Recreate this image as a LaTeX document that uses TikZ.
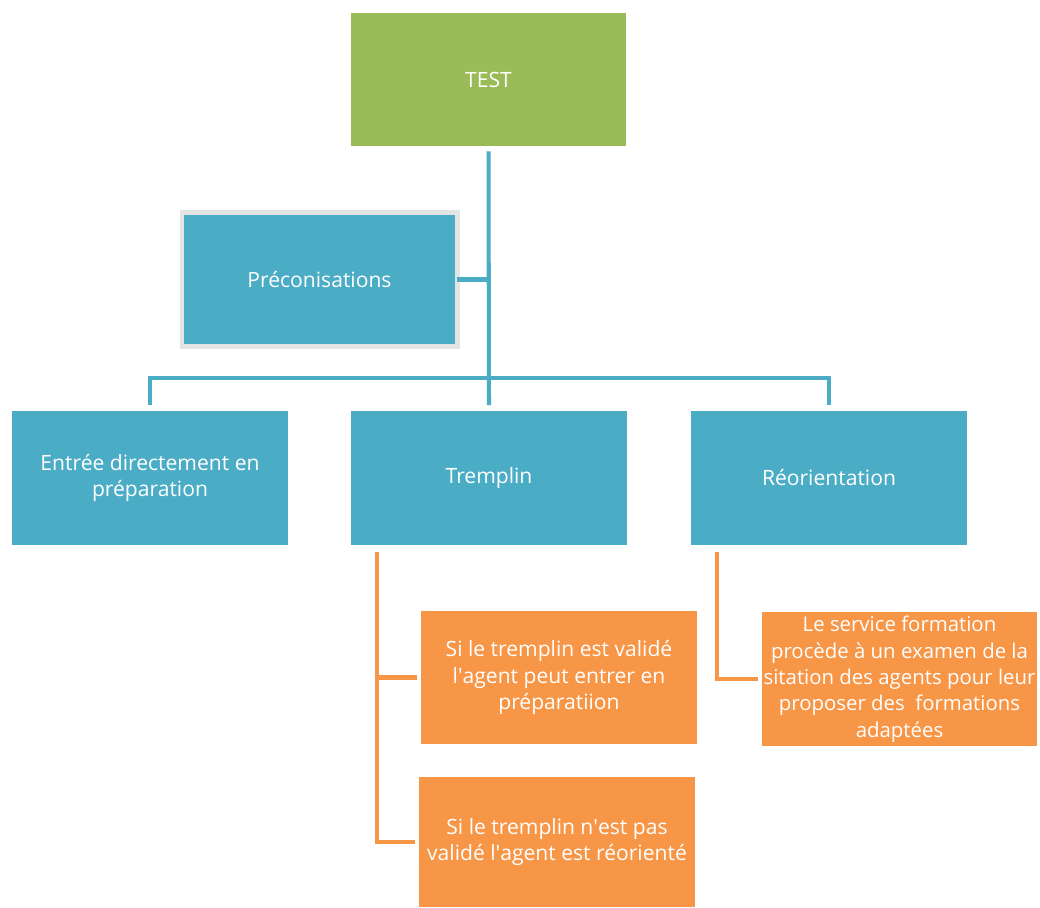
\documentclass[tikz,border=0pt]{standalone}
\usepackage{fontspec}
\setmainfont{Open Sans}
\usetikzlibrary{positioning}
\definecolor{boxblue}{HTML}{4BACC6}
\definecolor{boxgreen}{HTML}{9BBB59}
\definecolor{boxorange}{HTML}{F79646}
\definecolor{framegray}{HTML}{E4E4E4}
\newcommand{\apos}{\textquotesingle}
\begin{document}
\begin{tikzpicture}[x=0.02cm, y=-0.02cm,
    box/.style={minimum width=5.52cm, minimum height=2.68cm, text=white, align=center,
      inner sep=2pt, outer sep=0pt, font=\fontsize{12}{15}\selectfont},
    bluebox/.style={box, fill=boxblue},
    orangebox/.style={box, fill=boxorange},
    link/.style={draw=boxblue, line width=2.3pt},
    olink/.style={draw=boxorange, line width=2.3pt}]
    \useasboundingbox (0,0) rectangle (1040,908);

    \node (test) [box, fill=boxgreen] at (488.5,79.5) {TEST};
    \node (precon) [bluebox, draw=framegray, line width=2.3pt] at (319.5,279.5) {Préconisations};
    \node (entree) [bluebox] at (150,478) {Entrée directement en\\préparation};
    \node (tremplin) [bluebox] at (489,478) {Tremplin};
    \node (reor) [bluebox] at (829,478) {Réorientation};

    % suites du tremplin
    \node (valid) [orangebox] at (559,677.5) {Si le tremplin est validé\\l\apos agent peut entrer en\\préparatiion};
    \node (nonvalid) [orangebox, minimum height=2.6cm] at (557,842) {Si le tremplin n\apos est pas\\validé l\apos agent est réorienté};
    % suite de la reorientation
    \node (exam) [orangebox, inner sep=0pt, font=\fontsize{11.6}{15}\selectfont] at (899.5,679) {Le service formation\\procède à un examen de la\\sitation des agents pour leur\\proposer des\ \ formations\\adaptées};

    \coordinate (bus) at (489,378);
    \draw[link, shorten <=0.1cm, shorten >=0.12cm] (test.south) -- (tremplin.north);
    \draw[link, shorten <=0.12cm, shorten >=0.12cm] (entree.north) |- (bus) -| (reor.north);
    \draw[link] (precon.east) -- (precon.east -| bus);

    \coordinate (tspine) at ([xshift=0.52cm]tremplin.south west);
    \coordinate (rspine) at ([xshift=0.52cm]reor.south west);
    \draw[olink, shorten <=0.14cm] (tspine) |- ([xshift=-0.08cm]nonvalid.west);
    \draw[olink] (tspine |- valid.west) -- ([xshift=-0.08cm]valid.west);
    \draw[olink, shorten <=0.14cm] (rspine) |- ([xshift=-0.08cm]exam.west);
\end{tikzpicture}
\end{document}
